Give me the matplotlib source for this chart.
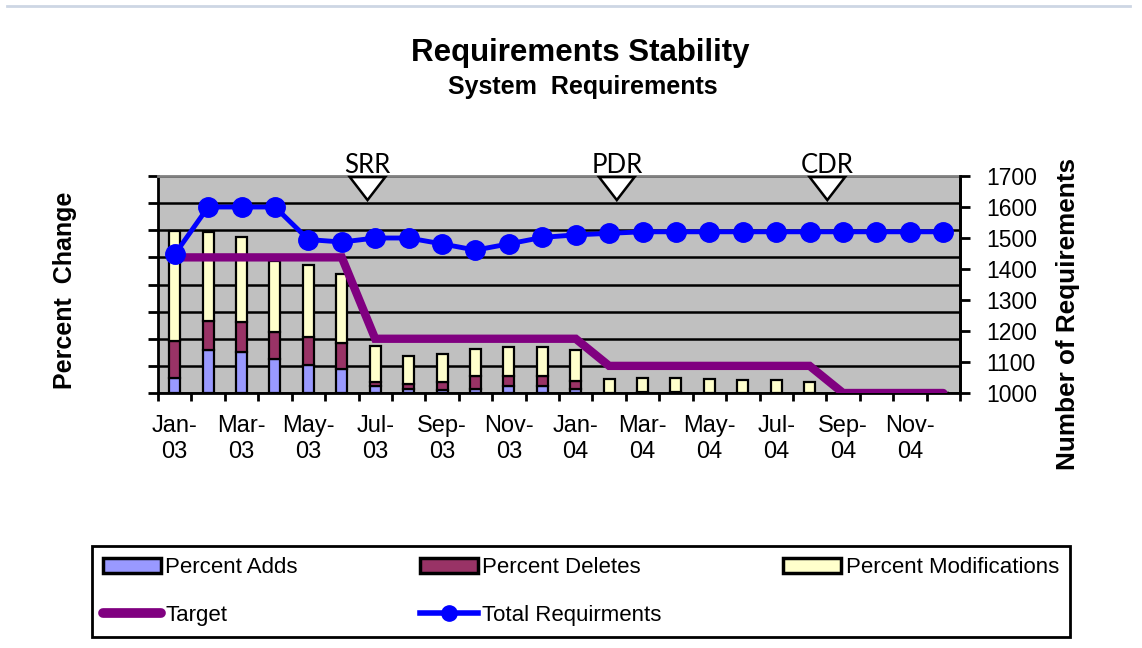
import numpy as np
import matplotlib
matplotlib.use("Agg")
import matplotlib.pyplot as plt
import matplotlib.patches as mpatches
from matplotlib.lines import Line2D

plt.rcParams['font.family'] = ['Liberation Sans', 'DejaVu Sans']

# data
months = ['Jan-03', 'Feb-03', 'Mar-03', 'Apr-03', 'May-03', 'Jun-03',
          'Jul-03', 'Aug-03', 'Sep-03', 'Oct-03', 'Nov-03', 'Dec-03',
          'Jan-04', 'Feb-04', 'Mar-04', 'Apr-04', 'May-04', 'Jun-04',
          'Jul-04', 'Aug-04', 'Sep-04', 'Oct-04', 'Nov-04', 'Dec-04']
pct_adds = [2.8, 8.0, 7.5, 6.3, 5.2, 4.4, 1.3, 0.8, 0.5, 0.8, 1.3, 1.3,
            0.8, 0, 0, 0, 0, 0, 0, 0, 0, 0, 0, 0]
pct_deletes = [6.8, 5.2, 5.5, 4.9, 5.2, 4.9, 0.8, 0.9, 1.5, 2.3, 1.8, 1.8,
               1.5, 0, 0.2, 0.2, 0, 0, 0, 0, 0, 0, 0, 0]
pct_mods = [20.2, 16.5, 15.7, 13.2, 13.2, 12.7, 6.6, 5.2, 5.2, 5.1, 5.4, 5.4,
            5.7, 2.6, 2.5, 2.5, 2.6, 2.4, 2.4, 2.1, 0, 0, 0, 0]
target = [25, 25, 25, 25, 25, 25, 10, 10, 10, 10, 10, 10,
          10, 5, 5, 5, 5, 5, 5, 5, 0, 0, 0, 0]
total_reqs = [1447, 1600, 1600, 1600, 1495, 1487, 1500, 1500, 1481, 1461, 1481, 1502,
              1510, 1515, 1520, 1520, 1520, 1520, 1520, 1520, 1520, 1520, 1520, 1520]
milestones = ['SRR', 'PDR', 'CDR']
milestone_pos = [5.77, 13.23, 19.53]

x = np.arange(len(months))
tick_labels = [m.replace('-', '-\n') for m in months[::2]]

fig = plt.figure(figsize=(11.42, 6.48), dpi=100)
fig.add_artist(Line2D([7 / 1142, 1130 / 1142], [1 - 6 / 648] * 2, color='#cdd6e4', lw=2))

ax = fig.add_axes([158 / 1142, 1 - 393 / 648, 802 / 1142, 217 / 648])
ax.set_facecolor('#c0c0c0')

# stacked bars on the percent axis
w = 0.33
ek = dict(edgecolor='black', linewidth=1.6, zorder=3)
ax.bar(x, pct_adds, w, color='#9999ff', **ek)
b2 = np.array(pct_adds)
ax.bar(x, pct_deletes, w, bottom=b2, color='#993366', **ek)
b3 = b2 + np.array(pct_deletes)
ax.bar(x, pct_mods, w, bottom=b3, color='#ffffcc', **ek)

ax.plot(x, target, color='#800080', lw=6, solid_capstyle='round',
        solid_joinstyle='miter', zorder=4)

ax.set_xlim(-0.5, 23.5)
ax.set_ylim(0, 40)
ax.set_yticks(np.arange(0, 41, 5))
ax.set_yticklabels([])
ax.yaxis.grid(True, color='black', lw=1.8, zorder=1)
ax.set_axisbelow(True)
ax.tick_params(axis='y', direction='out', length=7, width=2)

ax.set_xticks(x[::2])
ax.set_xticklabels(tick_labels, fontsize=17, linespacing=1.25)
ax.set_xticks(np.arange(-0.5, 24, 1), minor=True)
ax.tick_params(axis='x', which='major', length=0, pad=16)
ax.tick_params(axis='x', which='minor', direction='out', length=6, width=2)

for s in ['left', 'right', 'bottom']:
    ax.spines[s].set_linewidth(2)
ax.spines['top'].set_color('#808080')
ax.spines['top'].set_linewidth(2)

# total requirements on the right axis
ax2 = ax.twinx()
ax2.plot(x, total_reqs, color='#0000ff', lw=3.5, marker='o', ms=14, zorder=5)
ax2.set_ylim(1000, 1700)
ax2.set_yticks(np.arange(1000, 1701, 100))
ax2.tick_params(axis='y', direction='out', length=7, width=2, labelsize=16.5, pad=12)
for s in ax2.spines.values():
    s.set_visible(False)
ax2.spines['right'].set_visible(True)
ax2.spines['right'].set_linewidth(2)

# milestone markers
tr = ax2.get_xaxis_transform()
for name, pos in zip(milestones, milestone_pos):
    tri = mpatches.Polygon([[pos - 0.53, 0.995], [pos + 0.53, 0.995], [pos, 0.889]],
                           closed=True, facecolor='white', edgecolor='black',
                           lw=1.8, transform=tr, clip_on=False, zorder=6)
    ax2.add_patch(tri)
    ax2.text(pos, 1.014, name, transform=tr, ha='center', va='baseline',
             fontsize=18.5, family='Lato')

fig.text(0.508, 0.918, 'Requirements Stability', ha='center', va='center',
         fontsize=22.5, fontweight='bold')
fig.text(0.51, 0.865, 'System  Requirements', ha='center', va='center',
         fontsize=18, fontweight='bold')
fig.text(0.057, 0.5525, 'Percent  Change', rotation=90, ha='center', va='center',
         fontsize=18, fontweight='bold')
fig.text(0.935, 0.515, 'Number of Requirements', rotation=90, ha='center', va='center',
         fontsize=18.8, fontweight='bold')

# legend
h_adds = mpatches.Patch(facecolor='#9999ff', edgecolor='black', lw=2.5, label='Percent Adds')
h_del = mpatches.Patch(facecolor='#993366', edgecolor='black', lw=2.5, label='Percent Deletes')
h_mod = mpatches.Patch(facecolor='#ffffcc', edgecolor='black', lw=2.5, label='Percent Modifications')
h_tgt = Line2D([], [], color='#800080', lw=7, solid_capstyle='round', label='Target')
h_tot = Line2D([], [], color='#0000ff', lw=4, marker='o', ms=11, label='Total Requirments')
leg = fig.legend(handles=[h_adds, h_tgt, h_del, h_tot, h_mod], ncol=3,
                 loc='lower left', mode='expand', borderaxespad=0,
                 bbox_to_anchor=(92 / 1142, 1 - 637 / 648, 978 / 1142, 92 / 648),
                 fontsize=16, handlelength=2.6, handletextpad=0.2,
                 labelspacing=1.2, borderpad=0.5, fancybox=False,
                 edgecolor='black', framealpha=1)
leg.get_frame().set_linewidth(2)

plt.savefig('out.png', dpi=100)
